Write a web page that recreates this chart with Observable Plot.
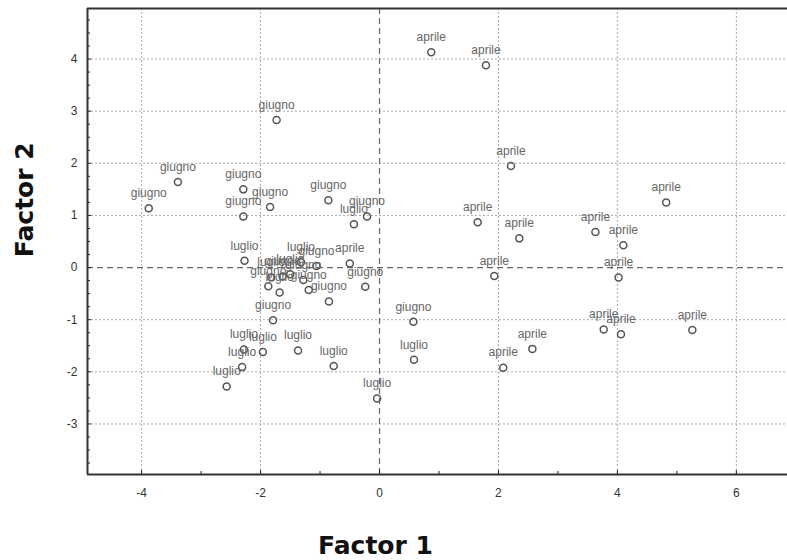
<!DOCTYPE html>
<html><head><meta charset="utf-8">
<script src="https://cdn.jsdelivr.net/npm/d3@7"></script>
<script src="https://cdn.jsdelivr.net/npm/@observablehq/plot@0.6"></script>
<style>
body{margin:0;background:#fff;}
#chart svg{display:block;}
</style></head><body><div id="chart"></div>
<script>
const aprileX = [0.87, 1.79, 2.21, 4.82, 1.65, 2.35, 3.63, 4.10, 1.93, 4.02, 3.77, 4.06, 5.26, 2.57, 2.08, -0.50];
const aprileY = [4.13, 3.88, 1.95, 1.25, 0.87, 0.56, 0.68, 0.43, -0.16, -0.19, -1.19, -1.28, -1.20, -1.56, -1.92, 0.08];
const giugnoX = [-1.73, -3.39, -3.88, -2.29, -2.29, -1.84, -0.86, -0.21, -0.24, -0.85, -1.79, 0.57, -1.06, -1.87, -1.63, -1.28, -1.19];
const giugnoY = [2.83, 1.64, 1.14, 1.50, 0.98, 1.16, 1.29, 0.98, -0.37, -0.65, -1.01, -1.04, 0.03, -0.36, -0.17, -0.24, -0.43];
const luglioX = [-0.43, -2.27, -1.32, 0.58, -2.28, -1.96, -1.37, -2.31, -0.77, -2.57, -0.04, -1.68, -1.82, -1.50];
const luglioY = [0.83, 0.13, 0.10, -1.77, -1.57, -1.62, -1.59, -1.91, -1.89, -2.28, -2.51, -0.48, -0.19, -0.13];

const xTicks = [-4, -2, 0, 2, 4, 6];
const xMinorTicks = [-3, -1, 1, 3, 5];
const yTicks = [-3, -2, -1, 0, 1, 2, 3, 4];
const yMinorTicks = d3.range(-3.75, 4.9, 0.25).filter(v => Math.abs(v - Math.round(v)) > 1e-6);
const xGrid = [-4, -2, 2, 4, 6];
const yGrid = [-3, -2, -1, 1, 2, 3, 4];
const xDomain = [-4.91, 6.86];
const yDomain = [-3.97, 4.97];
const xTitle = "Factor 1";
const yTitle = "Factor 2";

const points = [
  ...aprileX.map((x, i) => ({x, y: aprileY[i], m: "aprile"})),
  ...giugnoX.map((x, i) => ({x, y: giugnoY[i], m: "giugno"})),
  ...luglioX.map((x, i) => ({x, y: luglioY[i], m: "luglio"}))
];

const chart = Plot.plot({
  width: 787, height: 560,
  marginLeft: 87, marginRight: 0, marginTop: 8, marginBottom: 86,
  style: {fontFamily: "'Liberation Sans', Arial, sans-serif", fontSize: "12px", background: "#fff", color: "#333", overflow: "visible"},
  x: {domain: xDomain},
  y: {domain: yDomain},
  marks: [
    Plot.gridX(xGrid, {stroke: "#aaa", strokeOpacity: 1, strokeDasharray: "2,2"}),
    Plot.gridY(yGrid, {stroke: "#aaa", strokeOpacity: 1, strokeDasharray: "2,2"}),
    Plot.ruleX([0], {stroke: "#666", strokeDasharray: "6,4", strokeWidth: 1.2}),
    Plot.ruleY([0], {stroke: "#666", strokeDasharray: "6,4", strokeWidth: 1.2}),
    Plot.axisX(xTicks, {tickSize: -4, tickPadding: 18, tickFormat: d => String(d), label: null, stroke: "#222", fill: "#333"}),
    Plot.axisX(xMinorTicks, {tickSize: -3, fill: "none", label: null, stroke: "#222"}),
    Plot.axisY(yTicks, {tickSize: -4, tickPadding: 14, tickFormat: d => String(d), label: null, stroke: "#222", fill: "#333"}),
    Plot.axisY(yMinorTicks, {tickSize: -3, fill: "none", label: null, stroke: "#222"}),
    Plot.ruleY([yDomain[0], yDomain[1]], {stroke: "#333", strokeWidth: 2}),
    Plot.ruleX([xDomain[0]], {stroke: "#333", strokeWidth: 2}),
    Plot.dot(points, {x: "x", y: "y", r: 3.5, stroke: "#555", strokeWidth: 1.5, fill: "none"}),
    Plot.text(points, {x: "x", y: "y", text: "m", dy: -15, fill: "#666", fontSize: 12}),
    Plot.text([xTitle], {x: () => 0, frameAnchor: "bottom", dy: 79, dx: -4, text: d => d, fontSize: 25, fontWeight: "bold", fontFamily: "'DejaVu Sans', Verdana, sans-serif", fill: "#111"}),
    Plot.text([yTitle], {y: () => 0.2, frameAnchor: "left", dx: -63, rotate: -90, text: d => d, fontSize: 25, fontWeight: "bold", fontFamily: "'DejaVu Sans', Verdana, sans-serif", fill: "#111"})
  ]
});
document.getElementById("chart").appendChild(chart);
</script>
</body></html>
